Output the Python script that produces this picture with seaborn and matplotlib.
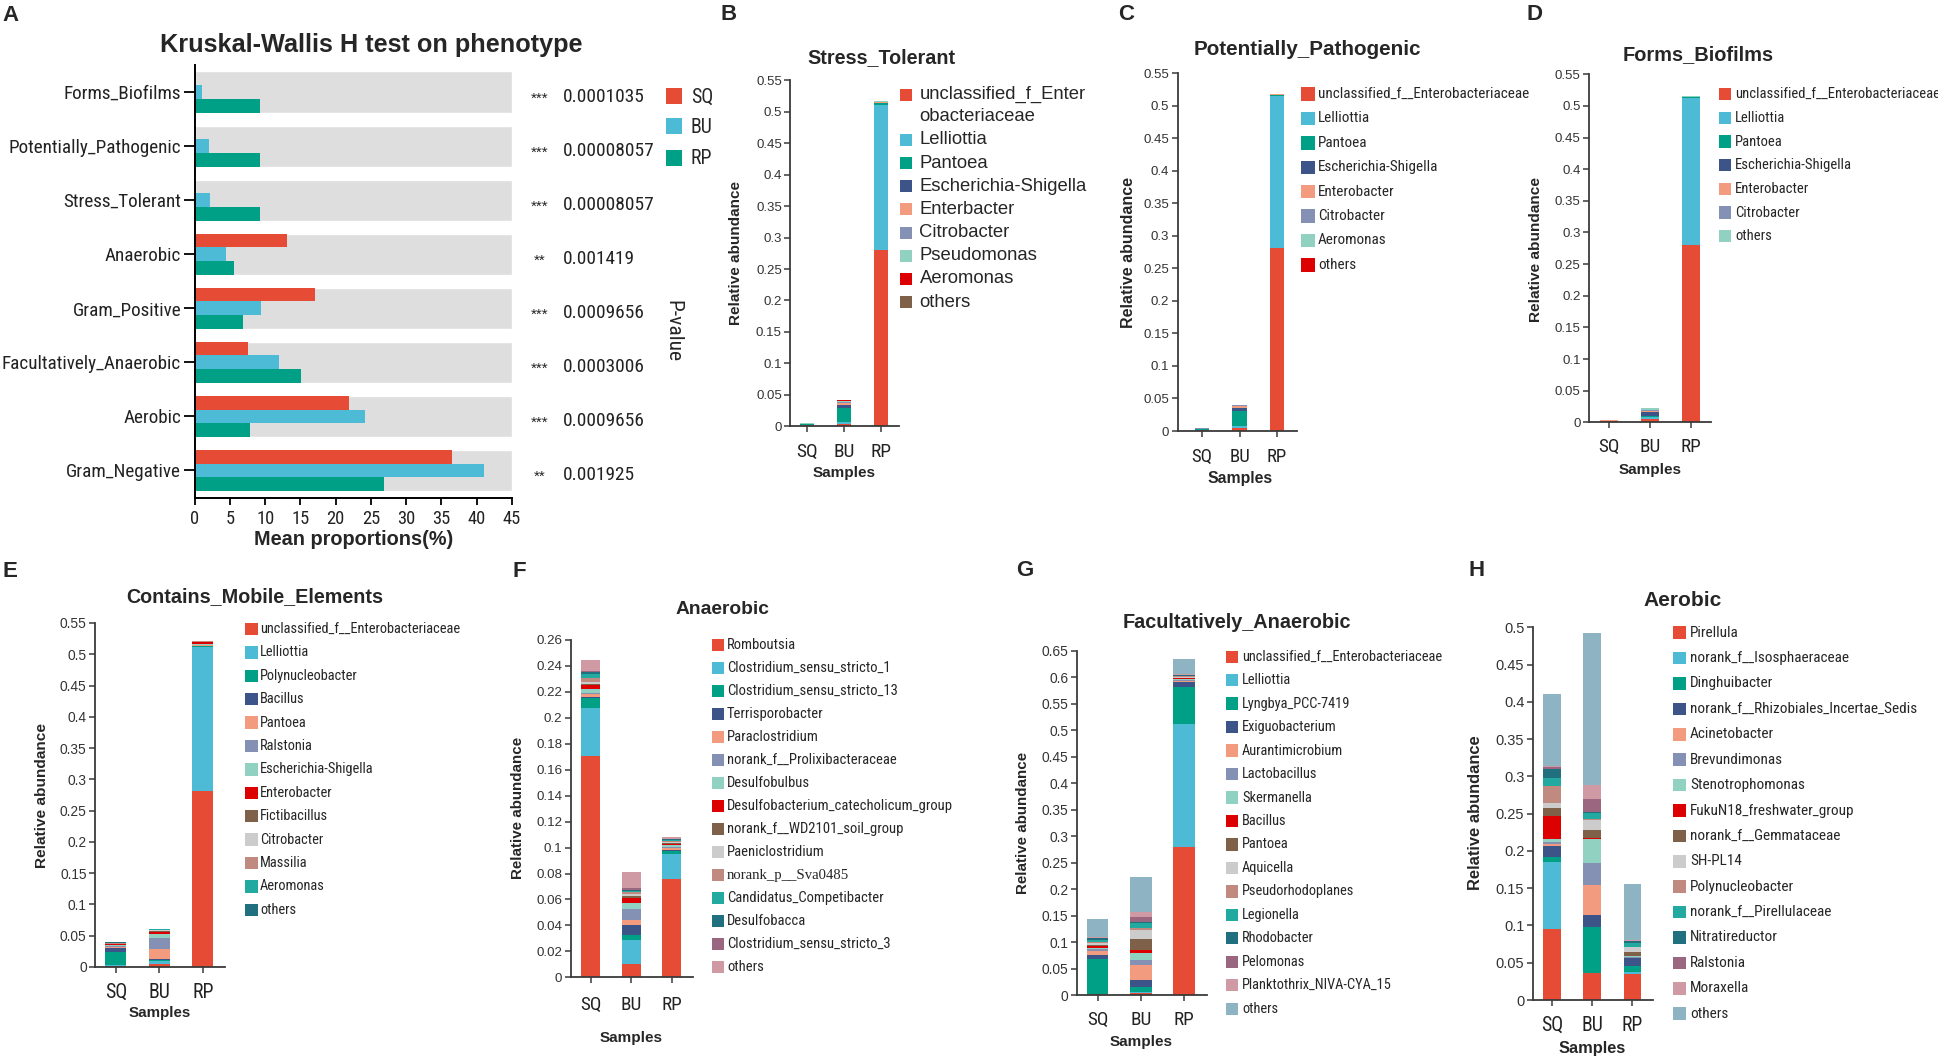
import numpy as np
import pandas as pd
import matplotlib
matplotlib.use("Agg")
import matplotlib.pyplot as plt
import seaborn as sns
from matplotlib import font_manager
from matplotlib.font_manager import FontProperties
from matplotlib.textpath import TextPath
from matplotlib.patches import Rectangle
from matplotlib.ticker import FuncFormatter

sns.set_theme(style="ticks")
BASE = "Liberation Sans"
plt.rcParams["font.family"] = [BASE, "DejaVu Sans"]


def _condensed_path():
    # the original labels are set in a narrow face; use one if it is installed
    prefs = ["Liberation Sans Narrow", "Arial Narrow", "Roboto Condensed", "Open Sans Condensed",
             "Noto Sans Condensed", "Noto Sans", "Open Sans", "Roboto", "Lato", "DejaVu Sans"]
    cands = []
    for f in font_manager.fontManager.ttflist:
        if f.style != "normal" or f.weight not in (400, "normal", "regular", "book"):
            continue
        if "Extra" in f.name or "Ultra" in f.name or "Semi" in f.name:
            continue
        if "Narrow" in f.name or "Condensed" in f.name or f.stretch == "condensed":
            rank = next((i for i, p in enumerate(prefs) if f.name.startswith(p)), len(prefs))
            cands.append((rank, f.fname))
    return min(cands)[1] if cands else None


_cpath = _condensed_path()
COND_FP = FontProperties(fname=_cpath) if _cpath else FontProperties(family=BASE)
_probe = "Facultatively_Anaerobic 0.0009656 SQ BU RP unclassified"
_ratio = (TextPath((0, 0), _probe, size=10, prop=FontProperties(family=BASE)).get_extents().width
          / TextPath((0, 0), _probe, size=10, prop=COND_FP).get_extents().width)


def cfont(pt):
    # condensed face sized so the text keeps the measured width
    fp = COND_FP.copy()
    fp.set_size(pt * _ratio)
    return fp


# ---------------- data ----------------
samples = ["SQ", "BU", "RP"]

# A: Kruskal-Wallis H test on phenotype, mean proportions (%)
phenotypes = ["Forms_Biofilms", "Potentially_Pathogenic", "Stress_Tolerant", "Anaerobic",
              "Gram_Positive", "Facultatively_Anaerobic", "Aerobic", "Gram_Negative"]
sq_mean = [0.2, 0.2, 0.2, 13.1, 17.1, 7.6, 21.9, 36.5]
bu_mean = [1.0, 2.0, 2.1, 4.4, 9.4, 11.9, 24.2, 41.0]
rp_mean = [9.2, 9.2, 9.2, 5.6, 6.8, 15.1, 7.8, 26.8]
stars = ["***", "***", "***", "**", "***", "***", "***", "**"]
pvalues = ["0.0001035", "0.00008057", "0.00008057", "0.001419",
           "0.0009656", "0.0003006", "0.0009656", "0.001925"]

# B: Stress_Tolerant
st_taxa = ["unclassified_f_Enter\nobacteriaceae", "Lelliottia", "Pantoea", "Escherichia-Shigella",
           "Enterbacter", "Citrobacter", "Pseudomonas", "Aeromonas", "others"]
st_sq = [0.0015, 0.0005, 0.0010, 0.0003, 0.0005, 0.0005, 0.0012, 0.0001, 0.0001]
st_bu = [0.0038, 0.0025, 0.0220, 0.0057, 0.0025, 0.0020, 0.0025, 0.0003, 0.0003]
st_rp = [0.2800, 0.2310, 0.0025, 0.0005, 0.0015, 0.0005, 0.0005, 0.0003, 0.0003]

# C: Potentially_Pathogenic
pp_taxa = ["unclassified_f__Enterobacteriaceae", "Lelliottia", "Pantoea", "Escherichia-Shigella",
           "Enterobacter", "Citrobacter", "Aeromonas", "others"]
pp_sq = [0.0010, 0.0005, 0.0015, 0.0002, 0.0003, 0.0005, 0.0003, 0.0002]
pp_bu = [0.0049, 0.0024, 0.0233, 0.0045, 0.0030, 0.0020, 0.0004, 0.0002]
pp_rp = [0.2808, 0.2340, 0.0015, 0.0003, 0.0008, 0.0002, 0.0001, 0.0001]

# D: Forms_Biofilms
fb_taxa = ["unclassified_f__Enterobacteriaceae", "Lelliottia", "Pantoea", "Escherichia-Shigella",
           "Enterobacter", "Citrobacter", "others"]
fb_sq = [0.0015, 0.0005, 0.0003, 0.0003, 0.0003, 0.0007, 0.0002]
fb_bu = [0.0050, 0.0030, 0.0020, 0.0065, 0.0010, 0.0025, 0.0019]
fb_rp = [0.2800, 0.2325, 0.0010, 0.0002, 0.0010, 0.0002, 0.0001]

# E: Contains_Mobile_Elements
me_taxa = ["unclassified_f__Enterobacteriaceae", "Lelliottia", "Polynucleobacter", "Bacillus",
           "Pantoea", "Ralstonia", "Escherichia-Shigella", "Enterobacter", "Fictibacillus",
           "Citrobacter", "Massilia", "Aeromonas", "others"]
me_sq = [0.0020, 0.0005, 0.0220, 0.0060, 0.0010, 0.0020, 0.0010, 0.0015, 0.0010, 0.0005, 0.0010, 0.0005, 0.0010]
me_bu = [0.0050, 0.0050, 0.0015, 0.0010, 0.0170, 0.0170, 0.0060, 0.0040, 0.0010, 0.0010, 0.0010, 0.0005, 0.0008]
me_rp = [0.2810, 0.2310, 0.0010, 0.0005, 0.0015, 0.0005, 0.0015, 0.0020, 0.0005, 0.0005, 0.0005, 0.0005, 0.0005]

# F: Anaerobic
an_taxa = ["Romboutsia", "Clostridium_sensu_stricto_1", "Clostridium_sensu_stricto_13",
           "Terrisporobacter", "Paraclostridium", "norank_f__Prolixibacteraceae", "Desulfobulbus",
           "Desulfobacterium_catecholicum_group", "norank_f__WD2101_soil_group", "Paeniclostridium",
           "norank_p__Sva0485", "Candidatus_Competibacter", "Desulfobacca",
           "Clostridium_sensu_stricto_3", "others"]
an_sq = [0.1706, 0.0373, 0.0072, 0.0008, 0.0023, 0.0013, 0.0026, 0.0033, 0.0010, 0.0015, 0.0026, 0.0033, 0.0018, 0.0008, 0.0082]
an_bu = [0.0100, 0.0188, 0.0039, 0.0075, 0.0041, 0.0082, 0.0051, 0.0033, 0.0018, 0.0015, 0.0015, 0.0008, 0.0008, 0.0013, 0.0128]
an_rp = [0.0755, 0.0195, 0.0023, 0.0008, 0.0018, 0.0008, 0.0010, 0.0010, 0.0005, 0.0008, 0.0010, 0.0005, 0.0008, 0.0005, 0.0015]

# G: Facultatively_Anaerobic
fa_taxa = ["unclassified_f__Enterobacteriaceae", "Lelliottia", "Lyngbya_PCC-7419", "Exiguobacterium",
           "Aurantimicrobium", "Lactobacillus", "Skermanella", "Bacillus", "Pantoea", "Aquicella",
           "Pseudorhodoplanes", "Legionella", "Rhodobacter", "Pelomonas",
           "Planktothrix_NIVA-CYA_15", "others"]
fa_sq = [0.0025, 0.0005, 0.0655, 0.0080, 0.0075, 0.0030, 0.0030, 0.0030, 0.0025, 0.0025, 0.0030, 0.0030, 0.0035, 0.0013, 0.0013, 0.0344]
fa_bu = [0.0040, 0.0030, 0.0080, 0.0140, 0.0280, 0.0100, 0.0126, 0.0057, 0.0210, 0.0170, 0.0040, 0.0090, 0.0030, 0.0094, 0.0080, 0.0673]
fa_rp = [0.2807, 0.2316, 0.0692, 0.0094, 0.0025, 0.0010, 0.0030, 0.0010, 0.0010, 0.0010, 0.0020, 0.0010, 0.0010, 0.0010, 0.0010, 0.0290]

# H: Aerobic
ae_taxa = ["Pirellula", "norank_f__Isosphaeraceae", "Dinghuibacter", "norank_f__Rhizobiales_Incertae_Sedis",
           "Acinetobacter", "Brevundimonas", "Stenotrophomonas", "FukuN18_freshwater_group",
           "norank_f__Gemmataceae", "SH-PL14", "Polynucleobacter", "norank_f__Pirellulaceae",
           "Nitratireductor", "Ralstonia", "Moraxella", "others"]
ae_sq = [0.0948, 0.0899, 0.0076, 0.0143, 0.0022, 0.0036, 0.0030, 0.0318, 0.0098, 0.0067, 0.0233, 0.0103, 0.0125, 0.0022, 0.0022, 0.0962]
ae_bu = [0.0358, 0.0010, 0.0613, 0.0161, 0.0398, 0.0304, 0.0313, 0.0010, 0.0112, 0.0134, 0.0010, 0.0089, 0.0010, 0.0179, 0.0179, 0.2040]
ae_rp = [0.0344, 0.0036, 0.0076, 0.0103, 0.0010, 0.0010, 0.0010, 0.0005, 0.0054, 0.0058, 0.0010, 0.0045, 0.0030, 0.0005, 0.0005, 0.0760]

# ---------------- styles ----------------
GROUP_COLORS = {"SQ": "#E64B35", "BU": "#4DBBD5", "RP": "#00A087"}
PAL = ["#E64B35", "#4DBBD5", "#00A087", "#3C5488", "#F39B7F", "#8491B4", "#91D1C2", "#DC0000",
       "#7E6148", "#CCCCCC", "#C08A80", "#22AAA1", "#20707F", "#9A6680", "#D09AA4", "#8EB3C2"]
SPINE = "#3a3a3a"

W, H = 1938, 1059
fig = plt.figure(figsize=(W / 100, H / 100), dpi=100)


def fx(x):
    return x / W


def fy(y):
    return 1 - y / H


def axes_px(l, t, r, b):
    return fig.add_axes([fx(l), fy(b), (r - l) / W, (b - t) / H])


def text_px(x, y, s, **kw):
    return fig.text(fx(x), fy(y), s, **kw)


def xpad(center_off, tick_len, fs):
    # pad (pt) that puts the tick-label centre center_off px below the spine
    return max(0.0, (center_off - tick_len * 100 / 72 - 0.37 * fs * 100 / 72) * 0.72)


def legend_px(labels, colors, box_x, size, text_x, y0, pitch, fs, cond, line_h=0.0):
    y = y0
    for lab, col in zip(labels, colors):
        fig.add_artist(Rectangle((fx(box_x), fy(y + size / 2)), size / W, size / H,
                                 transform=fig.transFigure, facecolor=col, edgecolor="none"))
        if lab == "norank_p__Sva0485":
            fp = FontProperties(family="Liberation Serif", size=fs * 1.15)
        elif cond:
            fp = cfont(fs)
        else:
            fp = FontProperties(family=BASE, size=fs)
        for k, ln in enumerate(lab.split("\n")):
            text_px(text_x, y + k * line_h, ln, fontproperties=fp, ha="left", va="center")
        y += pitch + lab.count("\n") * line_h


# ---------------- panel letters ----------------
LETTERS = {"A": (2, 9), "B": (720, 8), "C": (1118, 8), "D": (1526, 8),
           "E": (2, 565), "F": (512, 565), "G": (1016, 564), "H": (1468, 564)}
for k, (x, y) in LETTERS.items():
    text_px(x, y - 4, k, fontsize=16, fontweight="bold", ha="left", va="top")

# ---------------- A ----------------
A_BOX = (194.7, 65, 512, 497.5)
A_XMAX = 45
axA = axes_px(*A_BOX)
dfA = pd.DataFrame({"phenotype": phenotypes, "SQ": sq_mean, "BU": bu_mean, "RP": rp_mean})
dfA = dfA.melt(id_vars="phenotype", var_name="group", value_name="mean")
axA.barh(np.arange(len(phenotypes)), [A_XMAX] * len(phenotypes), height=0.76,
         color="#DEDEDE", zorder=0)
sns.barplot(data=dfA, y="phenotype", x="mean", hue="group", hue_order=samples,
            order=phenotypes, palette=GROUP_COLORS, orient="h", width=0.76, saturation=1,
            linewidth=0, errorbar=None, legend=False, ax=axA, zorder=2)
axA.set_xlim(0, A_XMAX)
axA.set_ylim(len(phenotypes) - 0.5, -0.5)
xt = np.arange(0, A_XMAX + 1, 5)
axA.set_xticks(xt, [str(v) for v in xt], fontproperties=cfont(11.6), color="#222222")
axA.set_yticks(np.arange(len(phenotypes)), phenotypes, fontproperties=cfont(12.0), color="#222222")
axA.set_ylabel("")
axA.set_xlabel("Mean proportions(%)", fontsize=14.3, fontweight="bold")
axA.xaxis.set_label_coords(0.5, -(539.5 - A_BOX[3]) / (A_BOX[3] - A_BOX[1]))
axA.xaxis.label.set_va("center")
sns.despine(ax=axA)
for s in ("left", "bottom"):
    axA.spines[s].set_color("black")
    axA.spines[s].set_linewidth(1.4)
axA.tick_params(axis="y", length=8, width=1.3, color="black", pad=1.7)
axA.tick_params(axis="x", length=5, width=1.3, color="black", pad=xpad(19, 5, 11.6 * 1.1))
text_px(371, 45, "Kruskal-Wallis H test on phenotype", fontsize=18.2, fontweight="bold",
        ha="center", va="center")
row_h = (A_BOX[3] - A_BOX[1]) / len(phenotypes)
for i, (st, pv) in enumerate(zip(stars, pvalues)):
    yc = A_BOX[1] + (i + 0.5) * row_h
    text_px(540, yc + 6.4, st, fontsize=11, ha="center", va="center", color="#222222")
    text_px(562.4, yc + 5, pv, fontproperties=cfont(12.2), ha="left", va="center",
            color="#222222")
for g, yc in zip(samples, [96.4, 126.3, 157.5]):
    fig.add_artist(Rectangle((fx(666), fy(yc + 8)), 16 / W, 16 / H, transform=fig.transFigure,
                             facecolor=GROUP_COLORS[g], edgecolor="none"))
    text_px(691, yc + 1, g, fontproperties=cfont(12.5), ha="left", va="center")
text_px(672.6, 330.6, "P-value", fontproperties=cfont(13.5), rotation=270,
        ha="center", va="center")

# ---------------- stacked panels ----------------
PANELS = [
    ("B", "Stress_Tolerant", st_taxa, st_sq, st_bu, st_rp),
    ("C", "Potentially_Pathogenic", pp_taxa, pp_sq, pp_bu, pp_rp),
    ("D", "Forms_Biofilms", fb_taxa, fb_sq, fb_bu, fb_rp),
    ("E", "Contains_Mobile_Elements", me_taxa, me_sq, me_bu, me_rp),
    ("F", "Anaerobic", an_taxa, an_sq, an_bu, an_rp),
    ("G", "Facultatively_Anaerobic", fa_taxa, fa_sq, fa_bu, fa_rp),
    ("H", "Aerobic", ae_taxa, ae_sq, ae_bu, ae_rp),
]

LAYOUT = {
    "B": dict(box=(790.2, 80.3, 898.9, 426.3), xlim=(-0.45, 2.49), width=0.37, ymax=0.55, step=0.05,
              title=(881.9, 58, 14.2), ytick=9.5, xtick=12.2, xoff=23.7,
              ylab=(736.4, 253, 11), xlab=(472.5, 11),
              leg=(899.7, 12, 919.5, 94.9, 23.2, 13.3, False, 21.7)),
    "C": dict(box=(1177.7, 73.2, 1297, 431), xlim=(-0.65, 2.53), width=0.39, ymax=0.55, step=0.05,
              title=(1307, 49.4, 14.9), ytick=9.5, xtick=11.8, xoff=23.7,
              ylab=(1128.2, 253, 11.5), xlab=(478.5, 11.4),
              leg=(1301, 13.5, 1318, 94.1, 24.4, 9.5, True, 0)),
    "D": dict(box=(1588.9, 74.3, 1711.4, 422.3), xlim=(-0.5, 2.51), width=0.44, ymax=0.55, step=0.05,
              title=(1698.4, 54.6, 14.4), ytick=9.5, xtick=12.0, xoff=22.5,
              ylab=(1535.5, 249, 11.1), xlab=(469.8, 11),
              leg=(1719, 12.3, 1735, 94.1, 23.7, 9.2, True, 0)),
    "E": dict(box=(95, 623, 225, 967), xlim=(-0.48, 2.51), width=0.48, ymax=0.55, step=0.05,
              title=(255, 597, 14.2), ytick=9.9, xtick=12.5, xoff=23,
              ylab=(42, 795, 11.1), xlab=(1013, 10.9),
              leg=(245, 12.5, 260, 629, 23.4, 9.0, True, 0)),
    "F": dict(box=(570.7, 640, 692.7, 977.3), xlim=(-0.49, 2.52), width=0.47, ymax=0.26, step=0.02,
              title=(722.7, 610, 13.9), ytick=9.6, xtick=12.0, xoff=25.7,
              ylab=(518, 808, 10.9), xlab=(1038, 11),
              leg=(711.7, 12, 727, 645, 23.0, 9.2, True, 0)),
    "G": dict(box=(1076.7, 651, 1206.7, 995.3), xlim=(-0.485, 2.52), width=0.5, ymax=0.65, step=0.05,
              title=(1236.7, 622, 14.3), ytick=9.9, xtick=12.0, xoff=22.7,
              ylab=(1022.7, 823, 10.9), xlab=(1042, 11),
              leg=(1226, 12.3, 1242, 656.7, 23.47, 9.0, True, 0)),
    "H": dict(box=(1532.7, 627.3, 1652.7, 1000), xlim=(-0.48, 2.51), width=0.43, ymax=0.5, step=0.05,
              title=(1682.7, 600, 15.0), ytick=10.5, xtick=12.4, xoff=22.7,
              ylab=(1475, 813, 11.9), xlab=(1049, 11.8),
              leg=(1673, 12.7, 1690, 632.7, 25.4, 9.6, True, 0)),
}

for key, title, taxa, sq, bu, rp in PANELS:
    lay = LAYOUT[key]
    l, t, r, b = lay["box"]
    ax = axes_px(l, t, r, b)
    df = pd.DataFrame({"SQ": sq, "BU": bu, "RP": rp}, index=taxa)
    cum = df.cumsum()
    # draw cumulative totals from the top layer down so each segment shows
    for i in range(len(taxa) - 1, -1, -1):
        sns.barplot(x=samples, y=cum.iloc[i][samples].to_numpy(), order=samples,
                    color=PAL[i], width=lay["width"], saturation=1, linewidth=0,
                    errorbar=None, ax=ax)
    x0, x1 = lay["xlim"]
    ax.set_xlim(x0, x1)
    ax.set_ylim(0, lay["ymax"])
    ax.set_yticks(np.round(np.arange(0, lay["ymax"] + lay["step"] / 2, lay["step"]), 3))
    ax.yaxis.set_major_formatter(FuncFormatter(lambda v, p: f"{v:g}"))
    ax.set_xticks(range(len(samples)), samples, fontproperties=cfont(lay["xtick"]),
                  color="#222222")
    sns.despine(ax=ax)
    for s in ("left", "bottom"):
        ax.spines[s].set_color(SPINE)
        ax.spines[s].set_linewidth(1.3)
    ax.tick_params(axis="y", length=4.5, width=1.1, color=SPINE, pad=1.5,
                   labelsize=lay["ytick"], labelcolor="#333333")
    ax.tick_params(axis="x", length=4.5, width=1.1, color=SPINE,
                   pad=xpad(lay["xoff"], 4.5, lay["xtick"] * 1.1))
    ylx, yly, ylfs = lay["ylab"]
    ax.set_ylabel("Relative abundance", fontsize=ylfs, fontweight="bold")
    ax.yaxis.set_label_coords((ylx - l) / (r - l), (b - yly) / (b - t))
    ax.yaxis.label.set_va("center")
    xly, xlfs = lay["xlab"]
    ax.set_xlabel("Samples", fontsize=xlfs, fontweight="bold")
    ax.xaxis.set_label_coords((1 - x0) / (x1 - x0), (b - xly) / (b - t))
    ax.xaxis.label.set_va("center")
    tx, ty, tfs = lay["title"]
    text_px(tx, ty, title, fontsize=tfs, fontweight="bold", ha="center", va="center")
    bx, bs, lx, ly0, lp, lfs, lcond, lh = lay["leg"]
    legend_px(taxa, PAL[:len(taxa)], bx, bs, lx, ly0, lp, lfs, lcond, lh)

fig.savefig("out.png", dpi=100)
